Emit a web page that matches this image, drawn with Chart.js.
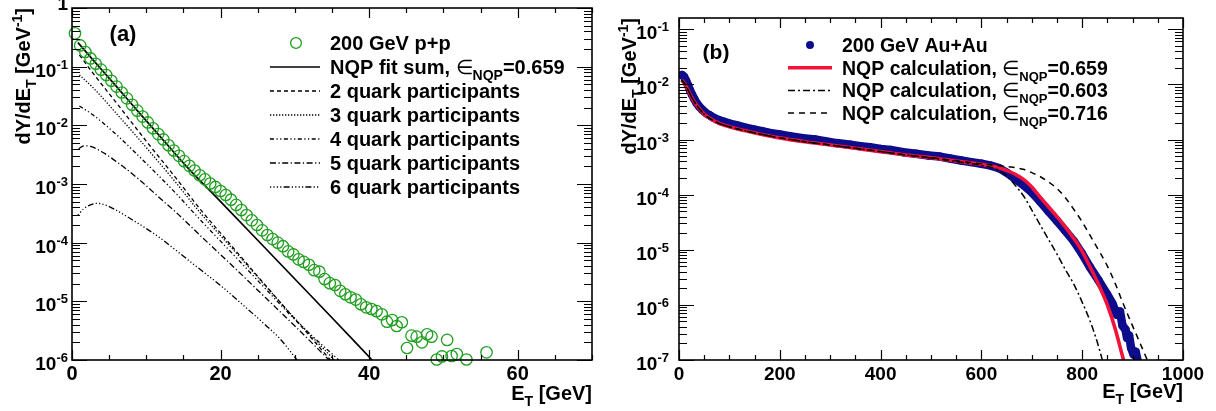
<!DOCTYPE html>
<html>
<head>
<meta charset="utf-8">
<title>NQP E_T distributions</title>
<script src="https://cdn.jsdelivr.net/npm/chart.js@4.4.1/dist/chart.umd.min.js"></script>
<style>
  html, body { margin: 0; padding: 0; background: #fff; }
  body { width: 1216px; height: 411px; position: relative; overflow: hidden; }
  .panel { position: absolute; top: 0; width: 608px; height: 411px; }
  #panelA { left: 0; }
  #panelB { left: 608px; }
</style>
</head>
<body>
<div class="panel" id="panelA"><canvas id="chartA" width="608" height="411"></canvas></div>
<div class="panel" id="panelB"><canvas id="chartB" width="608" height="411"></canvas></div>
<script>
// ---- (a) 200 GeV p+p ----
const ppE = [0.4, 1.1, 1.8, 2.5, 3.2, 3.9, 4.6, 5.3, 6.0, 6.7, 7.4, 8.1, 8.8, 9.5, 10.2, 10.9, 11.6, 12.3, 13.0, 13.7,
  14.4, 15.1, 15.8, 16.5, 17.2, 17.9, 18.6, 19.3, 20.0, 20.7, 21.4, 22.1, 22.8, 23.5, 24.2, 24.9, 25.6, 26.3, 27.0, 27.7,
  28.4, 29.1, 29.8, 30.5, 31.2, 31.9, 32.6, 33.3, 34.0, 34.7, 35.4, 36.1, 36.8, 37.5, 38.2, 38.9, 39.6, 40.3, 41.0, 41.7,
  42.4, 43.1, 43.7, 44.4, 45.1, 45.7, 46.4, 47.1, 47.8, 48.4, 49.1, 49.8, 50.5, 51.1, 51.8, 53.1, 55.8];
const ppY = [0.37, 0.23, 0.178, 0.138, 0.112, 0.089, 0.072, 0.0575, 0.0457, 0.0363, 0.0288, 0.0224,
  0.0178, 0.0141, 0.0112, 0.0089, 0.0071, 0.00575, 0.00457, 0.00372, 0.00302, 0.00245, 0.00204, 0.0017, 0.00141, 0.0012, 0.00102,
  8.9e-4, 7.6e-4, 6.5e-4, 5.4e-4, 4.4e-4, 3.6e-4, 2.95e-4, 2.4e-4, 2.0e-4, 1.62e-4, 1.35e-4, 1.15e-4, 1.0e-4,
  8.7e-5, 7.1e-5, 6.3e-5, 5.2e-5, 4.7e-5, 4.2e-5, 3.4e-5, 3.2e-5, 2.4e-5, 2.04e-5, 1.9e-5, 1.51e-5, 1.32e-5, 1.17e-5, 1.07e-5,
  8.9e-6, 7.9e-6, 7.4e-6, 6.8e-6, 6.0e-6, 4.5e-6, 4.8e-6, 3.8e-6, 4.4e-6,
  1.6e-6, 2.6e-6, 2.5e-6, 2.0e-6, 2.75e-6, 2.5e-6, 1.02e-6, 1.15e-6, 2.2e-6, 1.17e-6, 1.26e-6, 1.02e-6, 1.35e-6];

const fitE = [0.8, 3, 6, 9, 12, 15.4, 20, 25, 30, 35, 40.4];
const fitY = [0.257, 0.123, 0.0457, 0.0166, 0.00617, 0.0020, 5.0e-4, 1.10e-4, 2.4e-5, 5.25e-6, 1.0e-6];

const q2E = [1.0, 3, 6, 10, 14, 17.2, 22, 26, 30, 34.8];
const q2Y = [0.158, 0.0724, 0.024, 0.00537, 0.00126, 3.8e-4, 7.4e-5, 1.9e-5, 5.0e-6, 1.0e-6];
const q3E = [1.0, 3, 6, 10, 14, 17.2, 22, 26, 30, 35.3];
const q3Y = [0.0724, 0.0417, 0.0158, 0.00417, 0.00105, 3.3e-4, 6.9e-5, 1.86e-5, 5.1e-6, 1.0e-6];
const q4E = [1.0, 3, 6, 10, 14, 17.2, 22, 26, 30, 35.9];
const q4Y = [0.0214, 0.0145, 0.0069, 0.00224, 6.9e-4, 2.5e-4, 5.75e-5, 1.66e-5, 4.9e-6, 1.0e-6];
const q5E = [0.9, 1.6, 2.5, 4, 6, 9, 12, 14, 17.2, 22, 26, 30, 34.6];
const q5Y = [0.00398, 0.00447, 0.00437, 0.00355, 0.0024, 0.0012, 5.5e-4, 3.3e-4, 1.35e-4, 3.6e-5, 1.17e-5, 3.8e-6, 1.0e-6];
const q6E = [0.8, 1.6, 2.4, 3.3, 4.5, 6, 8, 10, 12, 14, 17, 20, 23, 26, 28, 30.3];
const q6Y = [2.95e-4, 3.8e-4, 4.37e-4, 4.68e-4, 4.37e-4, 3.55e-4, 2.5e-4, 1.74e-4, 1.17e-4, 7.4e-5, 3.7e-5, 1.86e-5, 8.7e-6, 4.0e-6, 2.3e-6, 1.0e-6];

const xTickLabelsA = [0, 20, 40, 60];
const yTickExpA = [-6, -5, -4, -3, -2, -1, 0];

// ---- (b) 200 GeV Au+Au ----
const auE = [6, 10, 14, 18, 22, 26, 30, 35, 40, 45, 50, 55, 61, 70, 80, 90, 100, 114, 130, 150, 165, 180, 200, 220, 246,
  270, 290, 313, 340, 360, 379, 400, 420, 445, 470, 495, 518, 540, 560, 580, 600, 617, 635, 650, 665, 684, 700, 716, 733,
  750, 766, 783, 799, 815, 832, 849, 860, 869, 875, 880, 886, 889, 893, 897, 902, 906, 911];
const auY = [0.0148, 0.0138, 0.0117, 0.00955, 0.00776, 0.00646, 0.0055, 0.00457, 0.00398, 0.00355, 0.00324, 0.00295, 0.00275,
  0.00245, 0.00224, 0.00209, 0.00195, 0.00182, 0.00166, 0.00151, 0.00141, 0.00132, 0.00123, 0.00115, 0.00106,
  0.001, 9.33e-4, 8.61e-4, 8.04e-4, 7.59e-4, 7.24e-4, 6.76e-4, 6.46e-4, 5.89e-4, 5.5e-4, 5.13e-4, 4.9e-4, 4.47e-4, 4.17e-4,
  3.89e-4, 3.63e-4, 3.39e-4, 3.02e-4, 2.51e-4, 2.0e-4, 1.48e-4, 1.1e-4, 7.59e-5, 5.01e-5, 3.31e-5, 2.24e-5, 1.45e-5,
  8.71e-6, 4.9e-6, 2.82e-6, 1.58e-6, 1.05e-6, 6.6e-7, 7.6e-7, 4.2e-7, 3.55e-7, 2.5e-7, 2.8e-7, 1.66e-7, 1.26e-7, 1.41e-7, 8.9e-8];

const calc659E = [5, 10, 15, 20, 25, 30, 40, 50, 60, 80, 100, 130, 160, 200, 250, 300, 350, 400, 450, 500, 550, 600,
  630, 650, 667, 683, 700, 716, 733, 750, 766, 783, 800, 815, 832, 849, 865, 882, 890];
const calc659Y = [0.0120, 0.0107, 0.00891, 0.00724, 0.00589, 0.0049, 0.00363, 0.00288, 0.00245, 0.00195, 0.0017, 0.00145,
  0.00126, 0.00107, 9.12e-4, 7.94e-4, 6.92e-4, 6.03e-4, 5.25e-4, 4.68e-4, 4.07e-4, 3.55e-4,
  3.16e-4, 2.75e-4, 2.34e-4, 1.91e-4, 1.38e-4, 9.12e-5, 6.03e-5, 3.98e-5, 2.63e-5, 1.62e-5, 9.33e-6, 5.01e-6, 2.4e-6,
  1.05e-6, 3.8e-7, 1.0e-7, 5.6e-8];

const calc603E = [5, 10, 15, 20, 25, 30, 40, 50, 60, 80, 100, 130, 160, 200, 250, 300, 350, 400, 450, 500, 550, 600,
  630, 650, 667, 684, 700, 716, 733, 750, 766, 783, 799, 815, 828, 840, 846];
const calc603Y = [0.0120, 0.0107, 0.00891, 0.00724, 0.00589, 0.0049, 0.00363, 0.00288, 0.00245, 0.00195, 0.0017, 0.00145,
  0.00126, 0.00107, 9.12e-4, 7.94e-4, 6.92e-4, 6.03e-4, 5.25e-4, 4.62e-4, 3.98e-4, 3.39e-4,
  2.88e-4, 2.19e-4, 1.48e-4, 9.33e-5, 5.25e-5, 2.88e-5, 1.55e-5, 8.32e-6, 4.47e-6, 2.4e-6, 1.17e-6, 5.25e-7, 2.4e-7,
  1.0e-7, 6.3e-8];

const calc716E = [5, 10, 15, 20, 25, 30, 40, 50, 60, 80, 100, 130, 160, 200, 250, 300, 350, 400, 450, 500, 550, 600,
  630, 660, 683, 700, 716, 733, 750, 766, 782, 799, 815, 832, 849, 865, 881, 898, 915, 929, 935];
const calc716Y = [0.0120, 0.0107, 0.00891, 0.00724, 0.00589, 0.0049, 0.00363, 0.00288, 0.00245, 0.00195, 0.0017, 0.00145,
  0.00126, 0.00107, 9.12e-4, 7.94e-4, 6.92e-4, 6.03e-4, 5.25e-4, 4.68e-4, 4.1e-4, 3.63e-4,
  3.39e-4, 3.16e-4, 2.88e-4, 2.51e-4, 2.14e-4, 1.7e-4, 1.29e-4, 8.91e-5, 5.62e-5, 3.31e-5, 1.86e-5, 1.0e-5, 5.25e-6,
  2.51e-6, 1.07e-6, 4.57e-7, 2.0e-7, 1.0e-7, 7.1e-8];

const xTickLabelsB = [0, 200, 400, 600, 800, 1000];
const yTickExpB = [-7, -6, -5, -4, -3, -2, -1];

// ---- drawing helpers ----
const FONT = '"Liberation Sans", Arial, Helvetica, sans-serif';

function fontFor(kind, size) {
  if (kind === 'sub' || kind === 'sup') return 'bold ' + Math.round(size * 0.68) + 'px ' + FONT;
  if (kind === 'sym') return size + 'px ' + FONT;
  return 'bold ' + size + 'px ' + FONT;
}
function offFor(kind, size) {
  if (kind === 'sub') return size * 0.3;
  if (kind === 'sup') return -size * 0.42;
  return 0;
}
// parts: [[text, kind], ...]; y is the baseline
function drawRich(ctx, parts, x, y, align, size) {
  let w = 0;
  parts.forEach(p => { ctx.font = fontFor(p[1], size); w += ctx.measureText(p[0]).width; });
  let cx = align === 'right' ? x - w : align === 'center' ? x - w / 2 : x;
  parts.forEach(p => {
    ctx.font = fontFor(p[1], size);
    ctx.fillText(p[0], cx, y + offFor(p[1], size));
    cx += ctx.measureText(p[0]).width;
  });
}

const pts = (xs, ys) => xs.map((v, i) => ({ x: v, y: ys[i] }));

function curve(label, xs, ys, style) {
  return Object.assign({
    label, data: pts(xs, ys), showLine: true, pointRadius: 0, pointHoverRadius: 0,
    borderColor: '#000', borderWidth: 1.3, cubicInterpolationMode: 'monotone', clip: 0, fill: false
  }, style);
}

// ROOT-like frame: box, inward ticks on all four sides, labels, titles, legend
const rootFrame = {
  id: 'rootFrame',
  afterDraw(chart, args, o) {
    const { ctx, chartArea: a, scales: { x, y } } = chart;
    ctx.save();
    ctx.fillStyle = '#000';
    ctx.strokeStyle = '#000';
    ctx.setLineDash([]);

    // ticks
    ctx.lineWidth = 1.2;
    ctx.beginPath();
    for (let v = x.min; v <= x.max + 1e-9; v += o.xMinor) {
      const major = Math.abs(v / o.xMajor - Math.round(v / o.xMajor)) < 1e-6;
      const len = major ? 10 : 5;
      const px = Math.round(x.getPixelForValue(v)) + 0.5;
      ctx.moveTo(px, a.bottom); ctx.lineTo(px, a.bottom - len);
      ctx.moveTo(px, a.top); ctx.lineTo(px, a.top + len);
    }
    const e0 = Math.floor(Math.log10(y.min) + 1e-9), e1 = Math.ceil(Math.log10(y.max));
    for (let e = e0; e <= e1; e++) {
      for (let k = 1; k <= 9; k++) {
        const v = k * Math.pow(10, e);
        if (v < y.min * 0.999 || v > y.max * 1.001) continue;
        const len = k === 1 ? 15 : 8;
        const py = Math.round(y.getPixelForValue(v)) + 0.5;
        ctx.moveTo(a.left, py); ctx.lineTo(a.left + len, py);
        ctx.moveTo(a.right, py); ctx.lineTo(a.right - len, py);
      }
    }
    ctx.stroke();
    ctx.lineWidth = 1.6;
    ctx.strokeRect(a.left, a.top, a.right - a.left, a.bottom - a.top);

    // tick labels
    ctx.textBaseline = 'alphabetic';
    o.xLabels.forEach(v => {
      drawRich(ctx, [[String(v), 'n']], x.getPixelForValue(v), o.xLabelBase, 'center', o.xLabelSize);
    });
    o.yExps.forEach(e => {
      const py = y.getPixelForValue(Math.pow(10, e));
      if (e === 0) {
        drawRich(ctx, [['1', 'n']], o.yLabelRight, py + o.topLabelShift, 'right', o.yLabelSize);
      } else {
        drawRich(ctx, [['10', 'n'], [String(e), 'sup']], o.yLabelRight, py + 10, 'right', o.yLabelSize);
      }
    });

    // axis titles
    drawRich(ctx, [['E', 'n'], ['T', 'sub'], [' [GeV]', 'n']], a.right, o.xTitleBase, 'right', o.titleSize);
    ctx.save();
    ctx.translate(o.yTitleX, a.top);
    ctx.rotate(-Math.PI / 2);
    drawRich(ctx, [['dY/dE', 'n'], ['T', 'sub'], [' [GeV', 'n'], ['-1', 'sup'], [']', 'n']], 0, 0, 'right', o.titleSize);
    ctx.restore();

    // panel tag
    drawRich(ctx, [[o.tag[0], 'n']], o.tag[1], o.tag[2], 'center', o.tag[3]);

    // legend
    const L = o.legend;
    L.rows.forEach((row, i) => {
      const ds = chart.data.datasets[row.ds];
      const cy = L.y0 + i * L.dy;
      if (row.marker) {
        ctx.beginPath();
        ctx.arc(L.markX, cy, ds.pointRadius * L.markScale, 0, Math.PI * 2);
        if (ds.pointBorderWidth) {
          ctx.lineWidth = ds.pointBorderWidth;
          ctx.strokeStyle = ds.pointBorderColor;
          ctx.stroke();
        } else {
          ctx.fillStyle = ds.pointBackgroundColor;
          ctx.fill();
        }
      } else {
        ctx.beginPath();
        ctx.setLineDash(ds.borderDash || []);
        ctx.lineWidth = ds.borderWidth;
        ctx.strokeStyle = ds.borderColor;
        ctx.moveTo(L.x0, cy); ctx.lineTo(L.x1, cy);
        ctx.stroke();
        ctx.setLineDash([]);
      }
      ctx.fillStyle = '#000';
      drawRich(ctx, row.parts, L.textX, cy + L.size * 0.36, 'left', L.size);
    });
    ctx.restore();
  }
};

const green = '#1f9e1f';
const blue = '#0c0c8c';
const red = 'rgb(242, 18, 58)';

const eps = v => [['∈', 'sym'], ['NQP', 'sub'], ['=' + v, 'n']];

new Chart(document.getElementById('chartA'), {
  type: 'scatter',
  data: {
    datasets: [
      { label: '200 GeV p+p', data: pts(ppE, ppY), showLine: false, pointStyle: 'circle', pointRadius: 5.7,
        pointHoverRadius: 5.7, pointBorderWidth: 1.3, pointBorderColor: green, pointBackgroundColor: 'rgba(0,0,0,0)', clip: false },
      curve('NQP fit sum', fitE, fitY, { borderWidth: 1.7 }),
      curve('2 quark participants', q2E, q2Y, { borderDash: [4, 3] }),
      curve('3 quark participants', q3E, q3Y, { borderDash: [1.3, 1.7] }),
      curve('4 quark participants', q4E, q4Y, { borderDash: [4, 2.5, 1.2, 2.5, 1.2, 2.5] }),
      curve('5 quark participants', q5E, q5Y, { borderDash: [6, 2.5, 1.2, 2.5] }),
      curve('6 quark participants', q6E, q6Y, { borderDash: [1.2, 2.2, 1.2, 2.2, 1.2, 2.2, 1.2, 2.2, 6, 2.2] })
    ]
  },
  options: {
    responsive: false, animation: false, events: [],
    layout: { padding: { left: 72, right: 16, top: 8, bottom: 51 } },
    scales: {
      x: { type: 'linear', min: 0, max: 70, display: false },
      y: { type: 'logarithmic', min: 1e-6, max: 1, display: false }
    },
    plugins: {
      legend: { display: false }, tooltip: { enabled: false },
      rootFrame: {
        xMinor: 5, xMajor: 20, xLabels: xTickLabelsA, xLabelBase: 380, xLabelSize: 20,
        yExps: yTickExpA, yLabelRight: 68, yLabelSize: 19, topLabelShift: 2,
        titleSize: 20, xTitleBase: 400, yTitleX: 30,
        tag: ['(a)', 123, 41, 22],
        legend: {
          x0: 270, x1: 320, markX: 296, markScale: 0.95, textX: 330, y0: 43, dy: 24, size: 20,
          rows: [
            { ds: 0, marker: true, parts: [['200 GeV p+p', 'n']] },
            { ds: 1, parts: [['NQP fit sum, ', 'n']].concat(eps('0.659')) },
            { ds: 2, parts: [['2 quark participants', 'n']] },
            { ds: 3, parts: [['3 quark participants', 'n']] },
            { ds: 4, parts: [['4 quark participants', 'n']] },
            { ds: 5, parts: [['5 quark participants', 'n']] },
            { ds: 6, parts: [['6 quark participants', 'n']] }
          ]
        }
      }
    }
  },
  plugins: [rootFrame]
});

new Chart(document.getElementById('chartB'), {
  type: 'scatter',
  data: {
    datasets: [
      { label: '200 GeV Au+Au', data: pts(auE, auY), showLine: true, borderColor: blue, borderWidth: 8.5,
        borderCapStyle: 'round', borderJoinStyle: 'round', pointStyle: 'circle', pointRadius: 4.2, pointHoverRadius: 4.2,
        pointBorderWidth: 0, pointBackgroundColor: blue, clip: 0, order: 4 },
      curve('NQP calculation 0.659', calc659E, calc659Y, { borderColor: red, borderWidth: 3.6, order: 3 }),
      curve('NQP calculation 0.603', calc603E, calc603Y, { borderWidth: 1.5, borderDash: [7, 3, 2, 3], order: 2 }),
      curve('NQP calculation 0.716', calc716E, calc716Y, { borderWidth: 1.5, borderDash: [6, 5], order: 1 })
    ]
  },
  options: {
    responsive: false, animation: false, events: [],
    layout: { padding: { left: 71, right: 33, top: 18, bottom: 51 } },
    scales: {
      x: { type: 'linear', min: 0, max: 1000, display: false },
      y: { type: 'logarithmic', min: 1e-7, max: 0.16, display: false }
    },
    plugins: {
      legend: { display: false }, tooltip: { enabled: false },
      rootFrame: {
        xMinor: 50, xMajor: 200, xLabels: xTickLabelsB, xLabelBase: 380, xLabelSize: 19,
        yExps: yTickExpB, yLabelRight: 61, yLabelSize: 19, topLabelShift: 2,
        titleSize: 20, xTitleBase: 398, yTitleX: 28,
        tag: ['(b)', 108, 59, 21],
        legend: {
          x0: 180, x1: 224, markX: 202, markScale: 0.95, textX: 234, y0: 45, dy: 22.7, size: 19.5,
          rows: [
            { ds: 0, marker: true, parts: [['200 GeV Au+Au', 'n']] },
            { ds: 1, parts: [['NQP calculation, ', 'n']].concat(eps('0.659')) },
            { ds: 2, parts: [['NQP calculation, ', 'n']].concat(eps('0.603')) },
            { ds: 3, parts: [['NQP calculation, ', 'n']].concat(eps('0.716')) }
          ]
        }
      }
    }
  },
  plugins: [rootFrame]
});
</script>
</body>
</html>
